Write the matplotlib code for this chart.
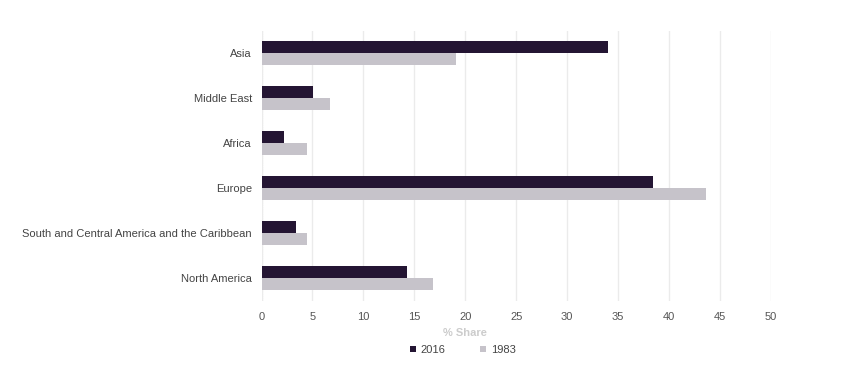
import matplotlib
matplotlib.use("Agg")
import matplotlib.pyplot as plt
import numpy as np

categories = ["Asia", "Middle East", "Africa", "Europe",
              "South and Central America and the Caribbean", "North America"]
values_2016 = [34.0, 5.05, 2.2, 38.4, 3.35, 14.3]
values_1983 = [19.1, 6.7, 4.5, 43.6, 4.5, 16.8]
series_names = ["2016", "1983"]
xticks = [0, 5, 10, 15, 20, 25, 30, 35, 40, 45, 50]

plt.rcParams['font.family'] = ['Liberation Sans', 'DejaVu Sans']

fig = plt.figure(figsize=(8.5, 3.77), dpi=100)
ax = fig.add_axes([261.5/850, 1-300.5/377, (771-261.5)/850, 270/377])

y = np.arange(len(categories))
h = 0.265
c16 = "#241533"
c83 = "#c6c3ca"
b1 = ax.barh(y - h/2, values_2016, height=h, color=c16, label=series_names[0], zorder=3)
b2 = ax.barh(y + h/2, values_1983, height=h, color=c83, label=series_names[1], zorder=3)

fs = 8.05
ax.set_xlim(0, 50)
ax.set_ylim(len(categories) - 0.5, -0.5)
ax.set_yticks(y)
ax.set_yticklabels(categories, fontsize=fs, color="#444444")
ax.set_xticks(xticks)
ax.set_xticklabels([str(t) for t in xticks], fontsize=fs, color="#555555")
ax.tick_params(axis='both', length=0)
ax.tick_params(axis='x', pad=8)
ax.tick_params(axis='y', pad=7)
for s in ax.spines.values():
    s.set_visible(False)
ax.grid(axis='x', color="#ebebeb", linewidth=1, zorder=0)
ax.axvline(0, color="#cccccc", linewidth=0.8, linestyle=(0, (1, 1)), zorder=1)

ax.set_xlabel("% Share", fontsize=fs, color="#cccccc", fontweight="bold", labelpad=3)
ax.xaxis.set_label_coords((465-261.5)/509.5, -0.10)

leg = fig.legend(handles=[b1, b2], labels=series_names, loc="center",
                 bbox_to_anchor=(463/850, 1-350/377), ncol=2, frameon=False,
                 fontsize=fs, handlelength=0.55, handleheight=0.55,
                 columnspacing=3.1, handletextpad=0.4)
for t in leg.get_texts():
    t.set_color("#444444")

fig.savefig("out.png", dpi=100, facecolor="white")
